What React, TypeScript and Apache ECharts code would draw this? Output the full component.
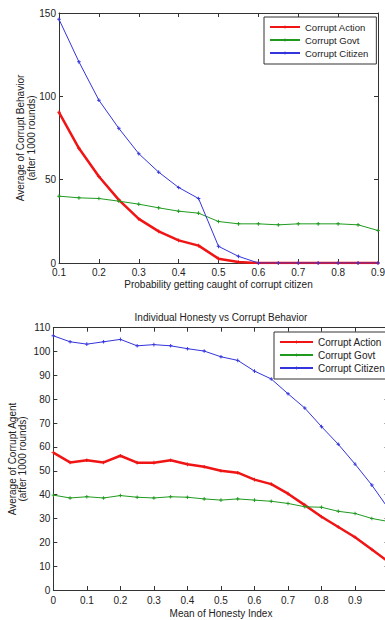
import React, { useEffect, useRef } from 'react';
import * as echarts from 'echarts';

// ---------- Chart 1 data ----------
const probX = [0.1, 0.15, 0.2, 0.25, 0.3, 0.35, 0.4, 0.45, 0.5, 0.55, 0.6, 0.65, 0.7, 0.75, 0.8, 0.85, 0.9];
const action1 = [90.4, 68.8, 51.9, 37.9, 26.5, 19.0, 13.6, 10.4, 2.6, 0.6, 0, 0, 0, 0, 0, 0, 0];
const govt1 = [40.1, 39.1, 38.7, 37.1, 35.3, 33.1, 31.1, 29.9, 24.9, 23.5, 23.5, 22.9, 23.5, 23.5, 23.5, 22.9, 19.5];
const citizen1 = [146.2, 120.7, 97.7, 80.8, 65.6, 54.5, 45.3, 38.7, 10.0, 4.0, 0, 0, 0, 0, 0, 0, 0];

// ---------- Chart 2 data ----------
const honestyX = [0, 0.05, 0.1, 0.15, 0.2, 0.25, 0.3, 0.35, 0.4, 0.45, 0.5, 0.55, 0.6, 0.65, 0.7, 0.75, 0.8, 0.85, 0.9, 0.95, 1.0];
const action2 = [57.6, 53.5, 54.4, 53.5, 56.3, 53.4, 53.4, 54.4, 52.7, 51.7, 50.0, 49.2, 46.3, 44.4, 40.4, 35.6, 30.7, 26.4, 22.1, 17.0, 11.8];
const govt2 = [39.8, 38.6, 39.1, 38.6, 39.6, 38.9, 38.6, 39.1, 38.9, 38.2, 37.7, 38.2, 37.7, 37.2, 36.3, 34.9, 34.7, 33.0, 32.1, 30.0, 28.7];
const citizen2 = [106.6, 104.1, 103.1, 104.1, 105.1, 102.4, 102.9, 102.4, 101.2, 100.2, 97.8, 96.3, 91.8, 88.5, 82.3, 76.3, 68.5, 61.1, 52.8, 44.0, 34.0];

const seriesNames = ['Corrupt Action', 'Corrupt Govt', 'Corrupt Citizen'];

// ---------- Texts ----------
const title2 = 'Individual Honesty vs Corrupt Behavior';
const xName1 = 'Probability getting caught of corrupt citizen';
const yName1 = ['Average of Corrupt Behavior', '(after 1000 rounds)'];
const xName2 = 'Mean of Honesty Index';
const yName2 = ['Average of Corrupt Agent', '(after 1000 rounds)'];

const FONT = '"Liberation Sans", Arial, sans-serif';
const TEXT = '#222';
const AXIS = '#333';
const RED = '#f01414';
const GREEN = '#1f9a1f';
const BLUE = '#3434dc';
const PLUS = 'path://M2,0h1.4v2h2v1.4h-2v2h-1.4v-2h-2v-1.4h2z';

function pairs(xs: number[], ys: number[]) {
  return xs.map((x, i) => [x, ys[i]]);
}

function xAxis(gridIndex: number, min: number, max: number, interval: number, top: boolean, margin: number, showMax: boolean) {
  return {
    type: 'value',
    gridIndex,
    min,
    max,
    interval,
    position: top ? 'top' : 'bottom',
    axisLine: { show: true, onZero: false, lineStyle: { color: AXIS, width: 1 } },
    axisTick: { show: true, inside: true, length: 4, lineStyle: { color: AXIS } },
    axisLabel: {
      show: !top,
      margin,
      fontSize: 10,
      lineHeight: 10,
      fontFamily: FONT,
      color: TEXT,
      showMaxLabel: showMax,
    },
    splitLine: { show: false },
  };
}

function yAxis(gridIndex: number, min: number, max: number, interval: number, right: boolean) {
  return {
    type: 'value',
    gridIndex,
    min,
    max,
    interval,
    position: right ? 'right' : 'left',
    axisLine: { show: true, onZero: false, lineStyle: { color: AXIS, width: 1 } },
    axisTick: { show: true, inside: true, length: 4, lineStyle: { color: AXIS } },
    axisLabel: { show: !right, margin: 3, fontSize: 10, lineHeight: 10, fontFamily: FONT, color: TEXT },
    splitLine: { show: false },
  };
}

function lineSeries(name: string, axisIdx: number, data: number[][], color: string, width: number) {
  return {
    type: 'line',
    name,
    xAxisIndex: axisIdx,
    yAxisIndex: axisIdx,
    data,
    symbol: PLUS,
    symbolSize: 3.6,
    showSymbol: true,
    lineStyle: { color, width },
    itemStyle: { color },
    emphasis: { disabled: true },
  };
}

function legend(left: number, top: number, itemWidth: number, gap: number, fontSize: number) {
  return {
    data: seriesNames,
    orient: 'vertical',
    left,
    top,
    backgroundColor: '#fff',
    borderColor: AXIS,
    borderWidth: 1,
    borderRadius: 0,
    padding: [5, 8, 6, 5],
    itemGap: gap,
    itemWidth,
    itemHeight: 4,
    textStyle: { fontSize, fontFamily: FONT, color: TEXT },
    selectedMode: false,
  };
}

function rotText(x: number, y: number, text: string) {
  return {
    type: 'text',
    x,
    y,
    rotation: Math.PI / 2,
    style: { text, font: `10px ${FONT}`, fill: TEXT, align: 'center', verticalAlign: 'middle' },
  };
}

function hText(x: number, y: number, text: string) {
  return {
    type: 'text',
    x,
    y,
    style: { text, font: `10px ${FONT}`, fill: TEXT, align: 'center', verticalAlign: 'middle' },
  };
}

export default function App() {
  const ref = useRef<HTMLDivElement>(null);
  useEffect(() => {
    document.body.style.margin = '0';
    const chart = echarts.init(ref.current!, null, { renderer: 'svg' });
    chart.setOption({
      animation: false,
      backgroundColor: '#fff',
      grid: [
        { left: 59, top: 13, width: 319, height: 250, outerBoundsMode: 'none', containLabel: false },
        { left: 53.3, top: 327.7, width: 335.3, height: 262.3, outerBoundsMode: 'none', containLabel: false },
      ],
      xAxis: [
        xAxis(0, 0.1, 0.9, 0.1, false, 4.5, true),
        xAxis(0, 0.1, 0.9, 0.1, true, 4.5, true),
        xAxis(1, 0, 1, 0.1, false, 5, false),
        xAxis(1, 0, 1, 0.1, true, 5, false),
      ],
      yAxis: [
        yAxis(0, 0, 150, 50, false),
        yAxis(0, 0, 150, 50, true),
        yAxis(1, 0, 110, 10, false),
        yAxis(1, 0, 110, 10, true),
      ],
      legend: [legend(264, 17, 30, 3, 9.5), legend(274, 332, 33, 3, 10)],
      series: [
        lineSeries(seriesNames[0], 0, pairs(probX, action1), RED, 2.5),
        lineSeries(seriesNames[1], 0, pairs(probX, govt1), GREEN, 1),
        lineSeries(seriesNames[2], 0, pairs(probX, citizen1), BLUE, 1),
        lineSeries(seriesNames[0], 2, pairs(honestyX, action2), RED, 2.5),
        lineSeries(seriesNames[1], 2, pairs(honestyX, govt2), GREEN, 1),
        lineSeries(seriesNames[2], 2, pairs(honestyX, citizen2), BLUE, 1),
      ],
      graphic: [
        rotText(20.5, 138, yName1[0]),
        rotText(31.5, 138, yName1[1]),
        hText(218.5, 284, xName1),
        hText(221, 317, title2),
        rotText(12, 459, yName2[0]),
        rotText(22.5, 459, yName2[1]),
        hText(221, 613, xName2),
      ],
    });
    return () => chart.dispose();
  }, []);
  return (
    <div style={{ width: 385, height: 620, overflow: 'hidden', position: 'relative', background: '#fff' }}>
      <div ref={ref} style={{ width: 400, height: 620 }} />
    </div>
  );
}
